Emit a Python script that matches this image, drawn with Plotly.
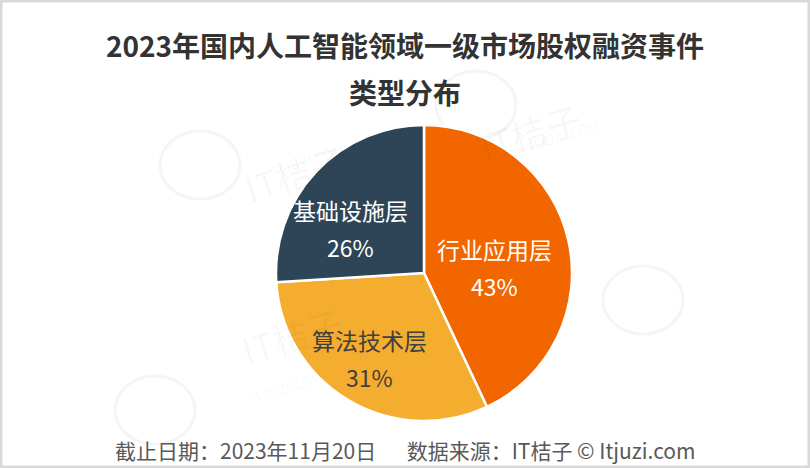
import math
import plotly.graph_objects as go

categories = ["行业应用层", "算法技术层", "基础设施层"]
values = [43, 31, 26]
colors = ["#F26600", "#F5AD2F", "#2E4558"]
text_colors = ["#FFFFFF", "#404040", "#FFFFFF"]

W, H = 810, 468
FONT = "Noto Sans CJK SC, Microsoft YaHei, sans-serif"

# pie placement (paper domain)
dom_x = [276 / W, 572 / W]
dom_y = [1 - 421 / H, 1 - 125 / H]

fig = go.Figure(go.Pie(
    labels=categories,
    values=values,
    sort=False,
    direction="clockwise",
    rotation=0,
    marker=dict(colors=colors, line=dict(color="#FFFFFF", width=2.5)),
    textinfo="none",
    domain=dict(x=dom_x, y=dom_y),
    showlegend=False,
    hoverinfo="label+percent",
))

# data labels: label + percent near each slice's mid-angle (computed from values)
LABEL_R = 0.57                 # fraction of radius
LABEL_DX, LABEL_DY = -12, 13   # global nudge (px) like the source's label anchor
LINE_GAP = 37
cx_px = (dom_x[0] + dom_x[1]) / 2 * W
cy_px = (1 - (dom_y[0] + dom_y[1]) / 2) * H
r_px = min((dom_x[1] - dom_x[0]) * W, (dom_y[1] - dom_y[0]) * H) / 2
total = sum(values)
annotations = []
cum = 0
for lab, v, tc in zip(categories, values, text_colors):
    mid = (cum + v / 2) / total * 2 * math.pi
    cum += v
    px = cx_px + LABEL_R * r_px * math.sin(mid) + LABEL_DX
    py = cy_px - LABEL_R * r_px * math.cos(mid) + LABEL_DY
    pct = f"{round(v / total * 100)}%"
    annotations.append(dict(text=lab, x=px / W, y=1 - (py - LINE_GAP / 2) / H, xref="paper", yref="paper",
                            showarrow=False, xanchor="center", yanchor="middle",
                            font=dict(family=FONT, size=23, color=tc)))
    annotations.append(dict(text=pct, x=px / W, y=1 - (py + LINE_GAP / 2) / H, xref="paper", yref="paper",
                            showarrow=False, xanchor="center", yanchor="middle",
                            font=dict(family=FONT, size=23, color=tc)))

# faint watermarks (logo circle + brand text)
wm_logo = [(200, 165), (155, 410), (476, 105), (643, 300)]
wm_text = [(295, 130, 308, 160), (232, 378, 245, 410), (590, 88, 605, 112)]
shapes = []
for lx, ly in wm_logo:
    shapes.append(dict(type="circle", xref="paper", yref="paper", layer="below",
                       x0=(lx - 40) / W, x1=(lx + 40) / W, y0=1 - (ly + 34) / H, y1=1 - (ly - 34) / H,
                       line=dict(color="#F5F5F5", width=3), fillcolor="rgba(0,0,0,0)"))
for tx, ty, sx, sy in wm_text:
    annotations.append(dict(text="IT桔子", x=tx / W, y=1 - ty / H, xref="paper", yref="paper",
                            showarrow=False, textangle=-17,
                            font=dict(family=FONT, size=36, color="rgba(0,0,0,0.04)")))
    annotations.append(dict(text="ITJUZI.COM", x=sx / W, y=1 - sy / H, xref="paper", yref="paper",
                            showarrow=False, textangle=-17,
                            font=dict(family=FONT, size=14, color="rgba(0,0,0,0.04)")))

annotations += [
    dict(text="<b>2023年国内人工智能领域一级市场股权融资事件</b>", x=0.5, y=1 - 45 / H,
         xref="paper", yref="paper", showarrow=False, xanchor="center", yanchor="middle",
         font=dict(family=FONT, size=28, color="#333333")),
    dict(text="<b>类型分布</b>", x=0.5, y=1 - 92 / H,
         xref="paper", yref="paper", showarrow=False, xanchor="center", yanchor="middle",
         font=dict(family=FONT, size=28, color="#333333")),
    dict(text="截止日期：2023年11月20日　  数据来源：IT桔子 © Itjuzi.com", x=0.5, y=1 - 450 / H,
         xref="paper", yref="paper", showarrow=False, xanchor="center", yanchor="middle",
         font=dict(family=FONT, size=21, color="#595959")),
]
shapes.append(dict(type="rect", xref="paper", yref="paper", x0=0, y0=0, x1=1, y1=1,
                   line=dict(color="#D9D9D9", width=5), fillcolor="rgba(0,0,0,0)"))

fig.update_layout(
    width=W, height=H,
    margin=dict(l=0, r=0, t=0, b=0),
    paper_bgcolor="#FFFFFF",
    plot_bgcolor="#FFFFFF",
    font=dict(family=FONT),
    annotations=annotations,
    shapes=shapes,
)

fig.write_html("out.html", config={"displayModeBar": False})
with open("out.html", encoding="utf-8") as f:
    html = f.read()
html = html.replace("<head>", "<head><style>html,body{margin:0;padding:0;overflow:hidden;}</style>", 1)
with open("out.html", "w", encoding="utf-8") as f:
    f.write(html)
